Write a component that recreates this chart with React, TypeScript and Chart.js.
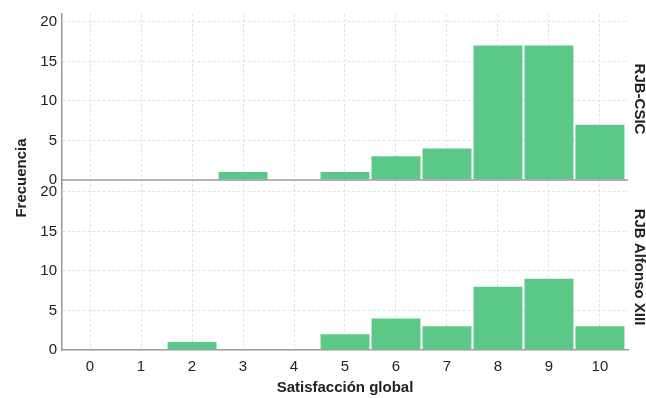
import React, { useEffect, useRef } from "react";
import { Chart, registerables } from "chart.js";

Chart.register(...registerables);

const categories = [0, 1, 2, 3, 4, 5, 6, 7, 8, 9, 10];
const csicValues = [0, 0, 0, 1, 0, 1, 3, 4, 17, 17, 7];
const alfonsoValues = [0, 0, 1, 0, 0, 2, 4, 3, 8, 9, 3];
const yTicks = [0, 5, 10, 15, 20];
const panelLabels = ["RJB-CSIC", "RJB Alfonso XIII"];
const xTitle = "Satisfacción global";
const yTitle = "Frecuencia";

const BAR = "#5cc887";
const GRID = "#e2e2e2";
const AXIS = "#9a9a9a";
const TEXT = "#222";
const FONT = "'Liberation Sans', Arial, sans-serif";

export default function App() {
  const ref = useRef<HTMLCanvasElement>(null);
  useEffect(() => {
    if (!ref.current) return;
    const decor = {
      id: "decor",
      afterDraw(chart: any) {
        const ctx = chart.ctx;
        const area = chart.chartArea;
        const yTop = chart.scales.yTop;
        const yBot = chart.scales.yBot;
        ctx.save();
        ctx.strokeStyle = AXIS;
        ctx.lineWidth = 1.5;
        const y0 = yTop.getPixelForValue(0);
        ctx.beginPath();
        ctx.moveTo(area.left, y0);
        ctx.lineTo(area.right, y0);
        ctx.stroke();
        ctx.fillStyle = TEXT;
        ctx.font = `bold 15px ${FONT}`;
        ctx.textAlign = "center";
        ctx.textBaseline = "middle";
        ctx.save();
        ctx.translate(22, 178);
        ctx.rotate(-Math.PI / 2);
        ctx.fillText(yTitle, 0, 0);
        ctx.restore();
        ctx.fillText(xTitle, 345, 388);
        [yTop, yBot].forEach((s: any, i: number) => {
          const cy = (s.top + s.bottom) / 2;
          ctx.save();
          ctx.translate(639, cy);
          ctx.rotate(Math.PI / 2);
          ctx.fillText(panelLabels[i], 0, 0);
          ctx.restore();
        });
        ctx.restore();
      },
    };

    const setTicks = (scale: any) => {
      scale.ticks = yTicks.map((v) => ({ value: v }));
    };

    const yCommon = (extra: any) => ({
      type: "linear",
      position: "left",
      stack: "panels",
      afterBuildTicks: setTicks,
      afterFit: (s: any) => {
        s.width = 62;
      },
      border: { display: true, color: AXIS, width: 1.5, dash: [3, 2] },
      grid: {
        color: (c: any) => (c.tick && c.tick.value === 0 ? "rgba(0,0,0,0)" : GRID),
        drawTicks: false,
        lineWidth: 1,
        offset: false,
      },
      ticks: {
        padding: 5,
        color: TEXT,
        font: { family: FONT, size: 15 },
      },
      ...extra,
    });

    const chart = new Chart(ref.current, {
      type: "bar",
      data: {
        datasets: [
          {
            label: panelLabels[0],
            data: categories.map((c, i) => ({ x: c, y: csicValues[i] })),
            backgroundColor: BAR,
            yAxisID: "yTop",
            xAxisID: "x",
            barPercentage: 0.96,
            categoryPercentage: 1,
            grouped: false,
          },
          {
            label: panelLabels[1],
            data: categories.map((c, i) => ({ x: c, y: alfonsoValues[i] })),
            backgroundColor: BAR,
            yAxisID: "yBot",
            xAxisID: "x",
            barPercentage: 0.96,
            categoryPercentage: 1,
            grouped: false,
          },
        ],
      },
      options: {
        animation: false,
        responsive: false,
        maintainAspectRatio: false,
        layout: { padding: { left: 0, right: 18, top: 10, bottom: 0 } },
        plugins: {
          legend: { display: false },
          tooltip: { enabled: false },
        },
        scales: {
          x: {
            type: "linear",
            offset: false,
            min: -0.55,
            max: 10.55,
            afterBuildTicks: (s: any) => {
              s.ticks = categories.map((v) => ({ value: v }));
            },
            afterFit: (s: any) => {
              s.height = 48;
            },
            border: { display: true, color: AXIS, width: 1.5, dash: [3, 2] },
            grid: { color: GRID, drawTicks: false, lineWidth: 1, offset: false },
            ticks: {
              padding: 8,
              color: TEXT,
              font: { family: FONT, size: 15 },
              autoSkip: false,
              maxRotation: 0,
            },
          },
          yBot: yCommon({ min: 0, max: 21, stackWeight: 168 }),
          yTop: yCommon({ min: -0.5, max: 21, stackWeight: 172 }),
        },
      } as any,
      plugins: [decor],
    } as any);

    return () => chart.destroy();
  }, []);

  return (
    <div style={{ position: "fixed", left: 0, top: 0, width: 646, height: 398, background: "#fff" }}>
      <canvas ref={ref} width={646} height={398} style={{ width: 646, height: 398 }} />
    </div>
  );
}
